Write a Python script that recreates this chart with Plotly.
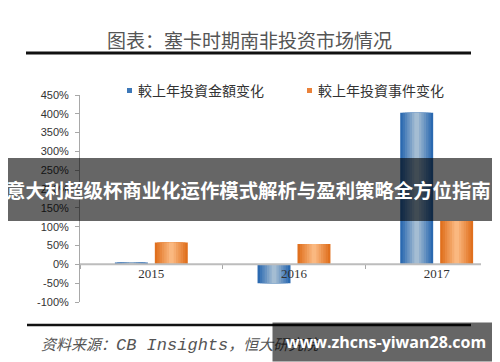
import plotly.graph_objects as go

# ---- data ----
years = ["2015", "2016", "2017"]
amount_change = [5, -50, 403]      # 較上年投資金額变化 (%)
event_change = [58, 54, 115]       # 較上年投資事件变化 (%)
series_names = ["較上年投資金額变化", "較上年投資事件变化"]
y_ticks = [-100, -50, 0, 50, 100, 150, 200, 250, 300, 350, 400, 450]
y_tick_labels = ["-100%", "-50%", "0%", "50%", "100%", "150%", "200%",
                 "250%", "300%", "350%", "400%", "450%"]

# ---- geometry helpers (pixel -> paper) ----
W, H = 500, 362
L, R, T, B = 72, 500, 87, 294


def px(x):
    return (x - L) / (R - L)


def py(y):
    return (B - y) / (B - T)


def lerp(c1, c2, t):
    a = [int(c1[i:i + 2], 16) for i in (1, 3, 5)]
    b = [int(c2[i:i + 2], 16) for i in (1, 3, 5)]
    return "rgb(%d,%d,%d)" % tuple(round(a[k] + (b[k] - a[k]) * t) for k in range(3))


fig = go.Figure()

bar_w = 0.231
series = [
    (amount_change, series_names[0], -0.14, "#2b69b0", "#a4bdd3"),
    (event_change, series_names[1], 0.14, "#e0701e", "#fab880"),
]
N = 7
for vals, name, center, edge, mid in series:
    for i in range(N):
        w = bar_w * (1 - i / N)
        fig.add_trace(go.Bar(
            x=years, y=vals, name=name,
            width=w, offset=center - w / 2,
            marker=dict(color=lerp(edge, mid, i / (N - 1)), line=dict(width=0)),
            showlegend=False,
            hoverinfo="x+y+name" if i == 0 else "skip",
        ))

fig.update_layout(
    template="none",
    width=W, height=H,
    margin=dict(l=L, r=W - R, t=T, b=H - B, pad=0, autoexpand=False),
    paper_bgcolor="white", plot_bgcolor="white",
    barmode="overlay",
    showlegend=False,
    font=dict(family="Liberation Sans, Noto Sans CJK SC", color="#333"),
)

fig.update_yaxes(
    range=[-100, 450], tickmode="array", tickvals=y_ticks, ticktext=y_tick_labels,
    showgrid=False, zeroline=False, automargin=False,
    showline=True, linecolor="#a8a8a8", linewidth=1,
    ticks="outside", ticklen=4, tickcolor="#a8a8a8", ticklabelstandoff=4,
    tickfont=dict(family="Liberation Sans", size=11, color="#333"),
    fixedrange=True,
)
fig.update_xaxes(
    type="category", categoryorder="array", categoryarray=years,
    range=[-0.5, 2.5], automargin=False,
    anchor="free", position=100 / 550,
    tickson="boundaries", ticks="outside", ticklen=4, tickcolor="#a8a8a8",
    showline=False, showgrid=False, zeroline=False,
    tickfont=dict(family="Liberation Serif", size=13, color="#333"),
    fixedrange=True,
)

shapes = [
    # zero / category axis line
    dict(type="line", xref="paper", yref="y", x0=0, x1=px(473), y0=0, y1=0,
         line=dict(color="#bdbdbd", width=2), layer="above"),
    # title rule
    dict(type="line", xref="paper", yref="paper", x0=px(18), x1=px(463), y0=py(45), y1=py(45),
         line=dict(color="#111", width=3)),
    # bottom rule
    dict(type="line", xref="paper", yref="paper", x0=px(19), x1=px(463), y0=py(317), y1=py(317),
         line=dict(color="#111", width=2.5)),
    # legend squares
    dict(type="rect", xref="paper", yref="paper", x0=px(119), x1=px(124), y0=py(80), y1=py(85),
         fillcolor="#3d78b8", line=dict(width=0)),
    dict(type="rect", xref="paper", yref="paper", x0=px(299), x1=px(304), y0=py(80), y1=py(85),
         fillcolor="#ea823a", line=dict(width=0)),
    # banner band
    dict(type="rect", xref="paper", yref="paper", x0=px(0), x1=px(500), y0=py(213), y1=py(150),
         fillcolor="rgba(0,0,0,0.6)", line=dict(width=0), layer="above"),
]
fig.update_layout(shapes=shapes)

annotations = [
    dict(text="图表：塞卡时期南非投资市场情况", x=px(241), y=py(32), xref="paper", yref="paper",
         xanchor="center", yanchor="middle", showarrow=False,
         font=dict(family="Noto Sans CJK SC", size=19, color="#555")),
    dict(text=series_names[0], x=px(129), y=py(82.5), xref="paper", yref="paper",
         xanchor="left", yanchor="middle", showarrow=False, borderpad=0,
         font=dict(family="Noto Sans CJK SC", size=14, color="#333")),
    dict(text=series_names[1], x=px(309), y=py(82.5), xref="paper", yref="paper",
         xanchor="left", yanchor="middle", showarrow=False, borderpad=0,
         font=dict(family="Noto Sans CJK SC", size=14, color="#333")),
    dict(text="资料来源：<span style='font-size:17px'>CB Insights</span>，恒大研究院",
         x=px(32), y=py(337), xref="paper", yref="paper",
         xanchor="left", yanchor="middle", showarrow=False, borderpad=0,
         font=dict(family="Liberation Mono, Noto Sans CJK SC", size=15, color="#555", style="italic")),
    # banner text
    dict(text="意大利超级杯商业化运作模式解析与盈利策略全方位指南", x=px(-3), y=py(181.5),
         xref="paper", yref="paper", xanchor="left", yanchor="middle", showarrow=False,
         borderpad=0,
         font=dict(family="Noto Sans CJK SC", size=19.4, color="white", weight="bold")),
    # watermark box
    dict(text="www.zhcns-yiwan28.com", x=px(378), y=py(334), xref="paper", yref="paper",
         xanchor="center", yanchor="middle", showarrow=False,
         width=226, height=38, borderpad=0, bgcolor="rgba(0,0,0,0.6)",
         font=dict(family="Open Sans", size=16, color="white", weight="bold")),
]
fig.update_layout(annotations=annotations)

fig.write_html("out.html", config={"displayModeBar": False})
